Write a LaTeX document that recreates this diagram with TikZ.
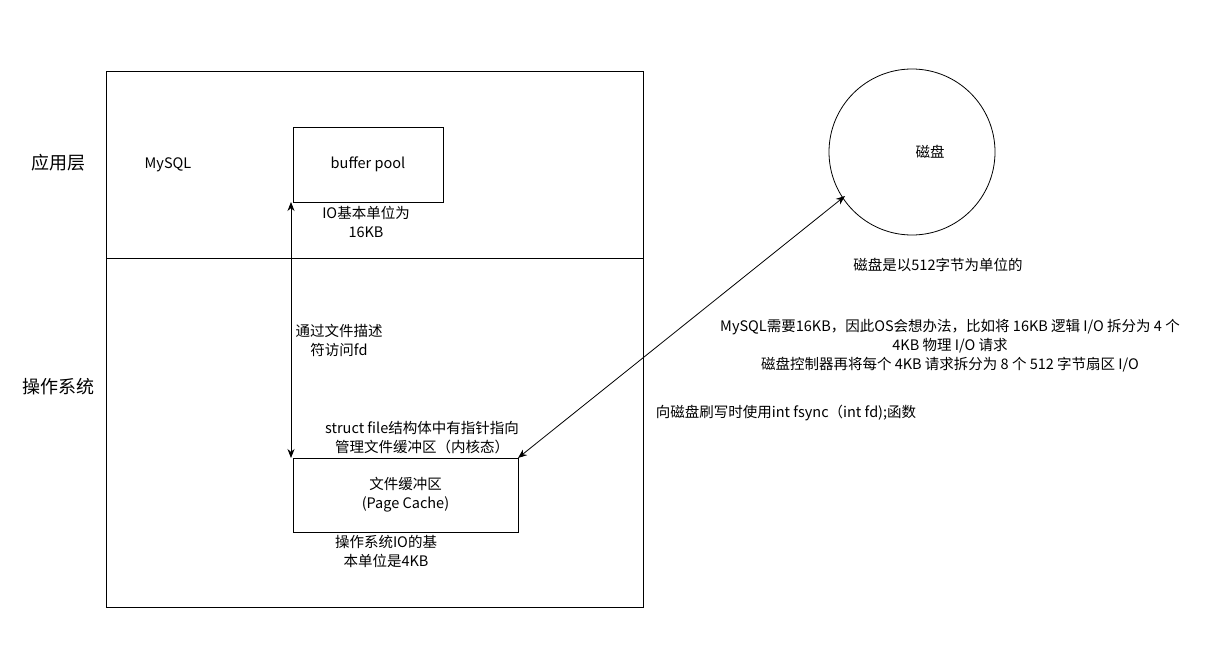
\documentclass[tikz,border=0pt]{standalone}
\usepackage{fontspec}
\setmainfont{Noto Sans CJK SC}
\usetikzlibrary{arrows.meta}
\begin{document}
\begin{tikzpicture}[x=1pt,y=-1pt,
  box/.style={draw,line width=0.8pt,inner sep=0pt},
  lbl/.style={font=\fontsize{14.5}{19}\selectfont,align=center,inner sep=0pt},
  big/.style={font=\fontsize{18}{21}\selectfont,inner sep=0pt},
  dbl/.style={{Stealth[length=9pt,width=7pt]}-{Stealth[length=9pt,width=7pt]},line width=0.8pt}]
\useasboundingbox[fill=white] (0,0) rectangle (1223,650);
\draw[line width=0.8pt] (106,71) rectangle (643,607);
\draw[line width=0.8pt] (106,258) -- (643,258);
\node[big] (app) at (58,163) {应用层};
\node[big] (os) at (58,387) {操作系统};
\node[lbl] (mysql) at (168,165) {MySQL};
\node[box,minimum width=150pt,minimum height=75pt,lbl] (bp) at (368,164.5) {buffer pool};
\node[lbl] (io16) at (366,222) {IO基本单位为\\16KB};
\node[box,minimum width=225pt,minimum height=74pt,lbl] (pc) at (405.5,495) {文件缓冲区\\(Page Cache)};
\coordinate (a1) at (291,202);
\coordinate (a2) at (291,458);
\draw[dbl] (a1) -- (a2);
\node[lbl] (fd) at (339,340) {通过文件描述\\符访问fd};
\node[lbl] (sf) at (422,438) {struct file结构体中有指针指向\\管理文件缓冲区（内核态）};
\node[lbl] (io4) at (386,551) {操作系统IO的基\\本单位是4KB};
\node[draw,circle,line width=0.8pt,minimum size=166pt,inner sep=0pt] (disk) at (912,152) {};
\node[lbl] (dl) at (930,152) {磁盘};
\node[lbl] (d512) at (938,265) {磁盘是以512字节为单位的};
\coordinate (b1) at (518,458);
\coordinate (b2) at (845,196);
\draw[dbl] (b1) -- (b2);
\node[lbl] (req) at (950,346) {MySQL需要16KB，因此OS会想办法，比如将 16KB 逻辑 I/O 拆分为 4 个\\4KB 物理 I/O 请求\\磁盘控制器再将每个 4KB 请求拆分为 8 个 512 字节扇区 I/O};
\node[lbl] (fs) at (786,413) {向磁盘刷写时使用int fsync（int fd);函数};
\end{tikzpicture}
\end{document}
